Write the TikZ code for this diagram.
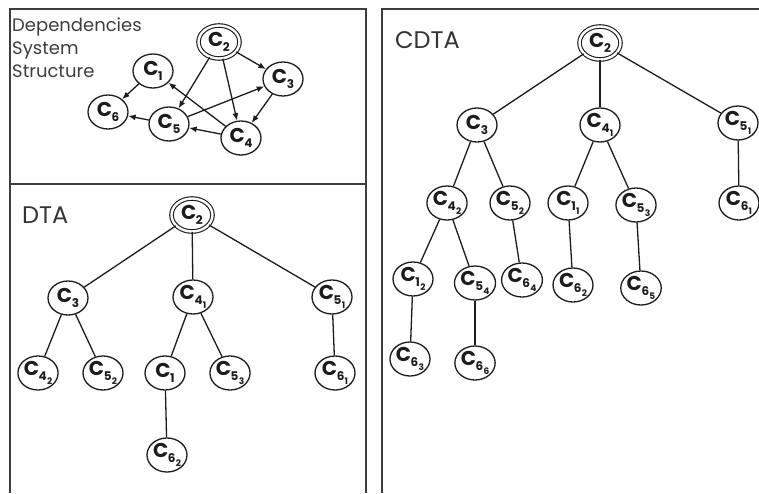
\documentclass[tikz,border=0pt]{standalone}
\usepackage{fontspec}
\setmainfont{Poppins}
\usetikzlibrary{shapes.geometric,arrows.meta}

\definecolor{ink}{HTML}{1C1C1C}

% component labels: C with one or two levels of subscript
\newcommand\Csub[1]{C\kern-0.4pt\raisebox{-0.5ex}{\fontsize{12}{12}\selectfont #1}}
\newcommand\Csubsub[2]{C\kern-0.4pt\raisebox{-0.5ex}{\fontsize{12}{12}\selectfont #1\kern0.3pt\raisebox{-0.6ex}{\fontsize{9}{9}\selectfont #2}}}

\tikzset{
  comp/.style={ellipse, draw=ink, line width=1.3pt, minimum width=40pt,
    minimum height=34pt, inner sep=0pt, text=ink,
    font=\fontsize{20}{20}\selectfont\bfseries},
  root/.style={comp, double, double distance=2.4pt, line width=1.1pt,
    minimum width=41pt, minimum height=33pt},
  link/.style={draw=ink, line width=1.3pt},
  dep/.style={link, -{Latex[length=7.5pt,width=6pt]}},
  frame/.style={draw=ink!85, line width=1.6pt},
  title/.style={inner sep=0pt, text=ink!90, font=\fontsize{24}{24}\selectfont},
}

\begin{document}
\begin{tikzpicture}[x=1pt, y=-1pt]
\useasboundingbox (0,0) rectangle (759,493);

% panel frames
\draw[frame] (10,493) -- (10,9) -- (366,9) -- (366,493);
\draw[frame] (10,184) -- (366,184);
\draw[frame] (382,493) -- (382,9) -- (759,9);

% ---- dependency graph ----
\node[anchor=north west, inner sep=0pt, align=left, text=ink!85,
  font=\fontsize{18}{23}\selectfont] (caption) at (12,17.5)
  {Dependencies\\System\\Structure};

\node[root] (d2) at (219,42) {\Csub{2}};
\node[comp] (d1) at (153,71) {\Csub{1}};
\node[comp] (d3) at (283,79) {\Csub{3}};
\node[comp] (d6) at (108,112) {\Csub{6}};
\node[comp] (d5) at (169,124) {\Csub{5}};
\node[comp] (d4) at (241,138) {\Csub{4}};

\draw[dep] (d2) -- (d3);
\draw[dep] (d2) -- (d5);
\draw[dep] (d2) -- (d4);
\draw[dep] (d3) -- (d4);
\draw[dep] (d5) -- (d3);
\draw[dep] (d4) -- (d1);
\draw[dep] (d4) -- (d5);
\draw[dep] (d5) -- (d6);
\draw[dep] (d1) -- (d6);

% ---- DTA ----
\node[title, anchor=base west] (dtaname) at (22,223) {DTA};

\node[root] (t2) at (192,215) {\Csub{2}};
\node[comp] (t3) at (68,298) {\Csub{3}};
\node[comp] (t41) at (193,297) {\Csubsub{4}{1}};
\node[comp] (t51) at (332,297) {\Csubsub{5}{1}};
\node[comp] (t42) at (38,373) {\Csubsub{4}{2}};
\node[comp] (t52) at (103,373) {\Csubsub{5}{2}};
\node[comp] (t1) at (165,373) {\Csub{1}};
\node[comp] (t53) at (230,373) {\Csubsub{5}{3}};
\node[comp] (t61) at (335,373) {\Csubsub{6}{1}};
\node[comp] (t62) at (167,455) {\Csubsub{6}{2}};

\draw[link] (t2) -- (t3);
\draw[link] (t2) -- (t41);
\draw[link] (t2) -- (t51);
\draw[link] (t3) -- (t42);
\draw[link] (t3) -- (t52);
\draw[link] (t41) -- (t1);
\draw[link] (t41) -- (t53);
\draw[link] (t51) -- (t61);
\draw[link] (t1) -- (t62);

% ---- CDTA ----
\node[title, anchor=base west] (cdtaname) at (395,48) {CDTA};

\node[root] (c2) at (600,43) {\Csub{2}};
\node[comp] (c3) at (477,125) {\Csub{3}};
\node[comp] (c41) at (600,125) {\Csubsub{4}{1}};
\node[comp] (c51) at (738,123) {\Csubsub{5}{1}};
\node[comp] (c42) at (447,203) {\Csubsub{4}{2}};
\node[comp] (c52) at (510,203) {\Csubsub{5}{2}};
\node[comp] (c11) at (568,203) {\Csubsub{1}{1}};
\node[comp] (c53) at (636,205) {\Csubsub{5}{3}};
\node[comp] (c61) at (739,203) {\Csubsub{6}{1}};
\node[comp] (c12) at (413,279) {\Csubsub{1}{2}};
\node[comp] (c54) at (475,283) {\Csubsub{5}{4}};
\node[comp] (c64) at (522,280) {\Csubsub{6}{4}};
\node[comp] (c62) at (573,285) {\Csubsub{6}{2}};
\node[comp] (c65) at (641,288) {\Csubsub{6}{5}};
\node[comp] (c63) at (410,359) {\Csubsub{6}{3}};
\node[comp] (c66) at (475,363) {\Csubsub{6}{6}};

\draw[link] (c2) -- (c3);
\draw[link] (c2) -- (c41);
\draw[link] (c2) -- (c51);
\draw[link] (c3) -- (c42);
\draw[link] (c3) -- (c52);
\draw[link] (c41) -- (c11);
\draw[link] (c41) -- (c53);
\draw[link] (c51) -- (c61);
\draw[link] (c42) -- (c12);
\draw[link] (c42) -- (c54);
\draw[link] (c52) -- (c64);
\draw[link] (c11) -- (c62);
\draw[link] (c53) -- (c65);
\draw[link] (c12) -- (c63);
\draw[link] (c54) -- (c66);
\end{tikzpicture}
\end{document}
